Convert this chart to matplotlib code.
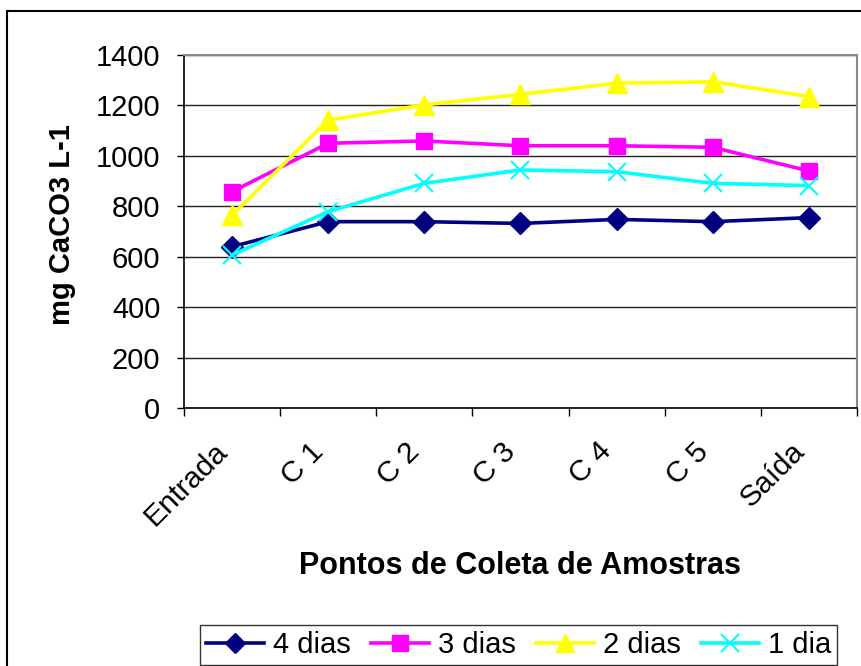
import matplotlib
matplotlib.use("Agg")
import matplotlib.pyplot as plt
import matplotlib.transforms as mtransforms
from matplotlib.patches import Rectangle
from matplotlib.ticker import FixedLocator, NullFormatter, FixedFormatter

plt.rcParams['font.family'] = ['Liberation Sans', 'DejaVu Sans']

categories = ["Entrada", "C 1", "C 2", "C 3", "C 4", "C 5", "Saída"]
dias4 = [640, 739, 739, 732, 748, 739, 755]
dias3 = [858, 1050, 1059, 1040, 1040, 1034, 940]
dias2 = [765, 1142, 1202, 1244, 1288, 1294, 1235]
dia1 = [607, 779, 891, 944, 937, 891, 882]
series_labels = ["4 dias", "3 dias", "2 dias", "1 dia"]
yticks = [0, 200, 400, 600, 800, 1000, 1200, 1400]

fig = plt.figure(figsize=(8.62, 6.66), dpi=100)
ax = fig.add_axes([184/862, 1-408/666, (857-184)/862, (408-55)/666])

x = list(range(len(categories)))
l1, = ax.plot(x, dias4, color='#000080', lw=2.6, marker='D', ms=11, label=series_labels[0], zorder=3)
l2, = ax.plot(x, dias3, color='#FF00FF', lw=2.6, marker='s', ms=12, label=series_labels[1], zorder=3)
l3, = ax.plot(x, dias2, color='#FFFF00', lw=2.6, marker='^', ms=14, label=series_labels[2], zorder=3)
l4, = ax.plot(x, dia1, color='#00FFFF', lw=2.6, marker='x', ms=13, mew=1.5, label=series_labels[3], zorder=4)

ax.set_xlim(-0.5, len(categories) - 0.5)
ax.set_ylim(0, 1400)
ax.set_yticks(yticks)
ax.set_yticklabels([str(v) for v in yticks], fontsize=21)
ax.yaxis.grid(True, color='#222222', lw=1.0)
ax.set_axisbelow(True)

ax.xaxis.set_major_locator(FixedLocator([i - 0.5 for i in range(len(categories) + 1)]))
ax.xaxis.set_major_formatter(NullFormatter())
ax.xaxis.set_minor_locator(FixedLocator(x))
ax.xaxis.set_minor_formatter(FixedFormatter(categories))
ax.tick_params(axis='x', which='major', length=6, width=1, direction='out')
ax.tick_params(axis='x', which='minor', length=0, pad=21, labelsize=21.5)
ax.tick_params(axis='y', length=5, width=1, direction='out', pad=12)
offset = mtransforms.ScaledTranslation(-19/100, 0, fig.dpi_scale_trans)
for lab in ax.xaxis.get_minorticklabels():
    lab.set_rotation(45)
    lab.set_ha('right')
    lab.set_rotation_mode('anchor')
    lab.set_transform(lab.get_transform() + offset)

for s in ['left', 'bottom']:
    ax.spines[s].set_color('#000000')
    ax.spines[s].set_linewidth(1.2)
for s in ['top', 'right']:
    ax.spines[s].set_color('#888888')
    ax.spines[s].set_linewidth(1.5)

ax.set_ylabel("mg CaCO3 L-1", fontsize=21, fontweight='bold', va='center')
ax.yaxis.set_label_coords((62-184)/673, (408-225)/353)
fig.text((184+857)/2/862, 1-566/666, "Pontos de Coleta de Amostras", fontsize=22,
         fontweight='bold', ha='center', va='center')

leg = fig.legend(handles=[l1, l2, l3, l4], loc='lower left',
                 bbox_to_anchor=(200/862, 1-665/666, (837-200)/862, (665-616)/666),
                 ncol=4, fontsize=21, frameon=True, fancybox=False, borderpad=0.2,
                 handlelength=2.0, handletextpad=0.3, columnspacing=0.6, mode='expand',
                 borderaxespad=0, markerscale=0.95)
leg.get_frame().set_edgecolor('#000000')
leg.get_frame().set_linewidth(1.0)

fig.add_artist(Rectangle((7/862, -0.01), 1.0, 1 - 11/666 + 0.01, transform=fig.transFigure,
                         fill=False, edgecolor='black', lw=1.5))

fig.savefig("out.png", dpi=100)
